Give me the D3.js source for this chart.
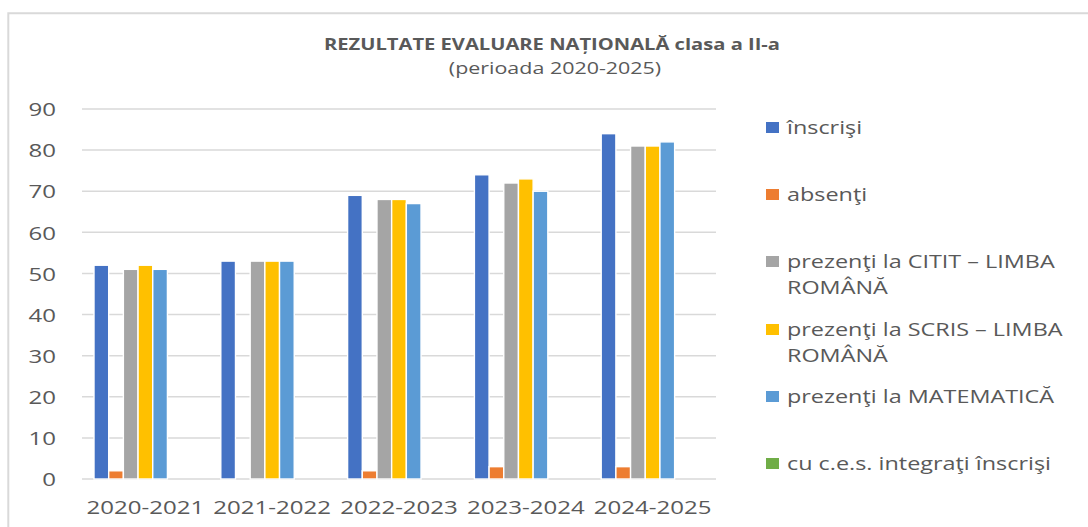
<!DOCTYPE html>
<html>
  <head>
    <meta charset="utf-8">
    <title>Evaluare Nationala clasa a II-a</title>
    <script src="https://d3js.org/d3.v7.min.js"></script>
    <style>
      body { margin: 0; background: #fff; }
      text { font-family: "Open Sans", sans-serif; fill: #595959; }
    </style>
  </head>
  <body>
    <svg id="canvas" width="1088" height="527"></svg>
    <script>
      // data
      years = ["2020-2021", "2021-2022", "2022-2023", "2023-2024", "2024-2025"];
      seriesNames = [
        ["înscrişi"],
        ["absenţi"],
        ["prezenţi la CITIT – LIMBA", "ROMÂNĂ"],
        ["prezenţi la SCRIS – LIMBA", "ROMÂNĂ"],
        ["prezenţi la MATEMATICĂ"],
        ["cu c.e.s. integraţi înscrişi"]
      ];
      inscrisi = [52, 53, 69, 74, 84];
      absenti = [2, 0, 2, 3, 3];
      prezentiCitit = [51, 53, 68, 72, 81];
      prezentiScris = [52, 53, 68, 73, 81];
      prezentiMate = [51, 53, 67, 70, 82];
      cesInscrisi = [0, 0, 0, 0, 0];
      yTicks = [0, 10, 20, 30, 40, 50, 60, 70, 80, 90];
      colors = ["#4472C4", "#ED7D31", "#A5A5A5", "#FFC000", "#5B9BD5", "#70AD47"];

      allSeries = [inscrisi, absenti, prezentiCitit, prezentiScris, prezentiMate, cesInscrisi];

      // the text in the picture is wider than it is tall
      stretch = 1.3;

      canvas = d3.select("#canvas");

      // outer chart border
      canvas.append("path")
        .attr("d", "M8.3,540 V13.3 H1100")
        .attr("fill", "none")
        .attr("stroke", "#d9d9d9")
        .attr("stroke-width", 2);

      // title
      canvas.append("text")
        .attr("transform", "translate(552,50) scale(" + stretch + ",1)")
        .attr("text-anchor", "middle")
        .style("font-size", "15.5px")
        .style("font-weight", "bold")
        .text("REZULTATE EVALUARE NAȚIONALĂ clasa a II-a");
      canvas.append("text")
        .attr("transform", "translate(555,74) scale(" + stretch + ",1)")
        .attr("text-anchor", "middle")
        .style("font-size", "16.5px")
        .text("(perioada 2020-2025)");

      // scales
      x0 = d3.scaleBand()
        .domain(years)
        .range([82, 716]);
      // 7 slots in each group, the last one stays empty
      x1 = d3.scaleBand()
        .domain(d3.range(7))
        .range([12, x0.bandwidth() - 12]);
      y = d3.scaleLinear()
        .domain([0, 90])
        .range([479, 109]);

      // gridlines
      canvas.append("g")
        .selectAll("line")
          .data(yTicks)
        .enter().append("line")
          .attr("x1", 82)
          .attr("x2", 716)
          .attr("y1", function(d) { return y(d); })
          .attr("y2", function(d) { return y(d); })
          .attr("stroke", "#d9d9d9")
          .attr("stroke-width", 1.5);

      // y axis labels
      yAxis = canvas.append("g")
        .attr("transform", "translate(82,0)")
        .call(d3.axisLeft(y).tickValues(yTicks).tickSize(0).tickPadding(0));
      yAxis.select(".domain").remove();
      yAxis.selectAll("text")
        .attr("x", -26 / stretch)
        .attr("dy", "0.36em")
        .attr("transform", "scale(" + stretch + ",1)")
        .style("font-size", "18.5px")
        .style("font-family", "'Open Sans', sans-serif")
        .attr("fill", "#595959");

      // x axis labels
      xAxis = canvas.append("g")
        .attr("transform", "translate(0,479)")
        .call(d3.axisBottom(x0).tickSize(0).tickPadding(0));
      xAxis.select(".domain").remove();
      xAxis.selectAll("text")
        .attr("y", 35)
        .attr("dy", 0)
        .attr("transform", "scale(" + stretch + ",1)")
        .attr("x", 0)
        .style("font-size", "18.5px")
        .style("font-family", "'Open Sans', sans-serif")
        .attr("fill", "#595959");

      // bars
      groups = canvas.append("g")
        .selectAll("g")
          .data(years)
        .enter().append("g")
          .attr("transform", function(d) { return "translate(" + x0(d) + ",0)"; });
      groups.selectAll("rect")
        .data(function(d, i) {
          return allSeries.map(function(s, k) { return {k: k, v: s[i]}; });
        })
        .enter().filter(function(d) { return d.v > 0; }).append("rect")
          .attr("x", function(d) { return x1(d.k); })
          .attr("width", x1.bandwidth())
          .attr("y", function(d) { return y(d.v); })
          .attr("height", function(d) { return y(0) - y(d.v); })
          .attr("fill", function(d) { return colors[d.k]; })
          .attr("stroke", "#fff")
          .attr("stroke-width", 1.4);

      // legend
      legendRows = [127.5, 194.5, 261.5, 329.5, 396.5, 463.5];
      legend = canvas.append("g")
        .selectAll("g")
          .data(seriesNames)
        .enter().append("g")
          .attr("transform", function(d, i) { return "translate(766," + legendRows[i] + ")"; });
      legend.append("rect")
        .attr("x", 0)
        .attr("y", -5.5)
        .attr("width", 13)
        .attr("height", 11)
        .attr("fill", function(d, i) { return colors[i]; });
      legend.each(function(lines) {
        let g = d3.select(this);
        lines.forEach(function(line, j) {
          g.append("text")
            .attr("transform", "translate(21," + (6.5 + j * 26) + ") scale(" + stretch + ",1)")
            .style("font-size", "18px")
            .text(line);
        });
      });
    </script>
  </body>
</html>
